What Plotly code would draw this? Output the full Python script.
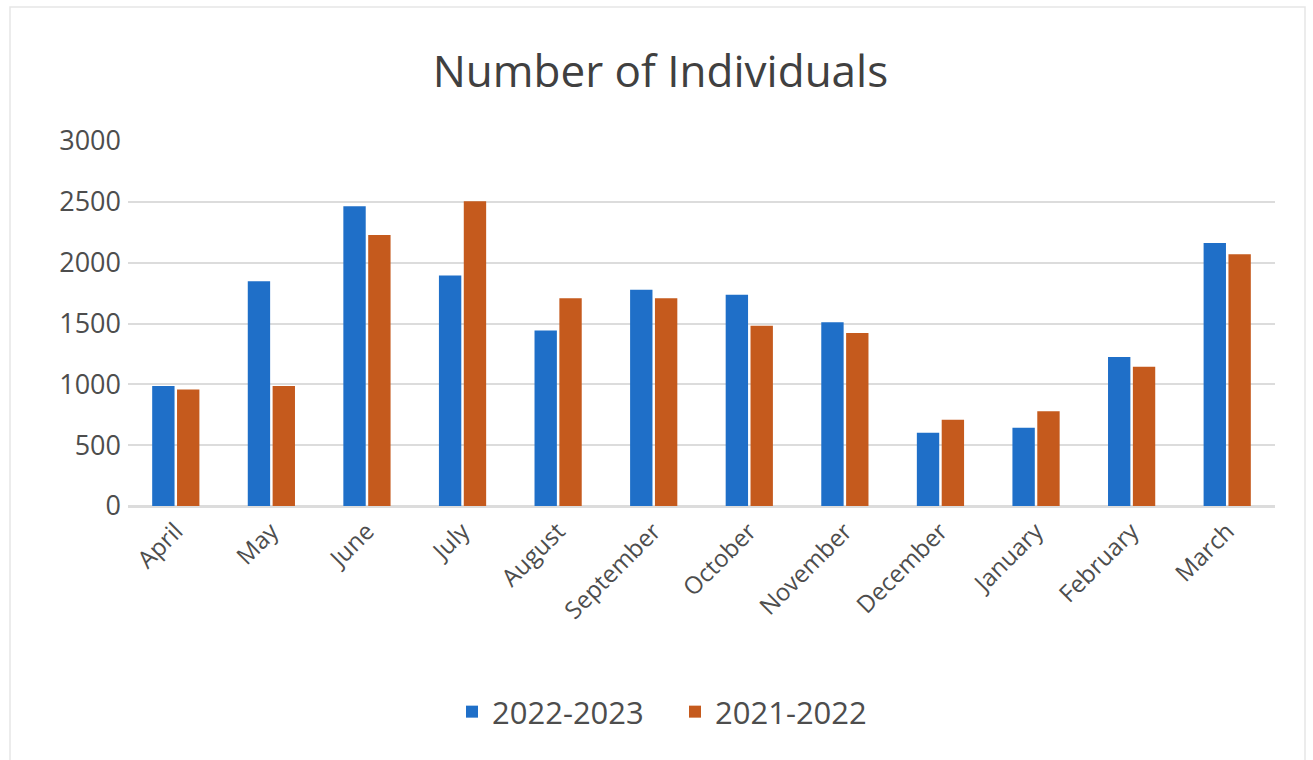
import plotly.graph_objects as go

months = ["April", "May", "June", "July", "August", "September", "October",
          "November", "December", "January", "February", "March"]
series_2022_2023 = [986, 1847, 2464, 1894, 1442, 1778, 1736, 1511, 603, 644, 1224, 2161]
series_2021_2022 = [958, 986, 2228, 2505, 1708, 1708, 1482, 1421, 708, 778, 1145, 2069]
y_ticks = [0, 500, 1000, 1500, 2000, 2500, 3000]

BLUE = "#1f6fc8"
ORANGE = "#c55a1d"
TEXT = "#4d4d4d"
GRID = "#dcdcdc"
FONT = "Open Sans"

fig = go.Figure()
fig.add_trace(go.Bar(x=months, y=series_2022_2023, name="2022-2023",
                     marker=dict(color=BLUE, line=dict(width=0))))
fig.add_trace(go.Bar(x=months, y=series_2021_2022, name="2021-2022",
                     marker=dict(color=ORANGE, line=dict(width=0))))

fig.update_layout(
    width=1313, height=760,
    margin=dict(l=128, r=38, t=141, b=254),
    paper_bgcolor="white", plot_bgcolor="white",
    barmode="group", bargap=0.48, bargroupgap=0.1,
    font=dict(family=FONT, color=TEXT),
    title=dict(text="Number of Individuals", x=0.503, xanchor="center",
               y=1 - 72 / 760, yanchor="middle", yref="container",
               font=dict(family=FONT, size=44, color="#404040")),
    legend=dict(orientation="h", x=(675 - 128) / 1147, xanchor="center",
                y=1 - 712 / 760, yanchor="middle", yref="container",
                font=dict(family=FONT, size=31, color=TEXT),
                itemwidth=30, entrywidth=178, entrywidthmode="pixels",
                traceorder="normal"),
    xaxis=dict(tickangle=-45, tickfont=dict(family=FONT, size=24, color=TEXT),
               showgrid=False, showline=True, linecolor=GRID, linewidth=1.5,
               ticks=""),
    yaxis=dict(range=[0, 3000], tickvals=y_ticks,
               tickfont=dict(family=FONT, size=27, color=TEXT),
               showgrid=True, gridcolor=GRID, gridwidth=1.5,
               zeroline=True, zerolinecolor=GRID, zerolinewidth=1.5,
               showline=False, ticks="", ticklabelstandoff=6),
    shapes=[dict(type="rect", xref="paper", yref="paper",
                 x0=-118 / 1147, x1=1305 / 1147 - 128 / 1147,
                 y0=-260 / 365, y1=1 + 134 / 365,
                 line=dict(color="#e6e6e6", width=1.5), layer="below")],
)

fig.write_html("out.html")
